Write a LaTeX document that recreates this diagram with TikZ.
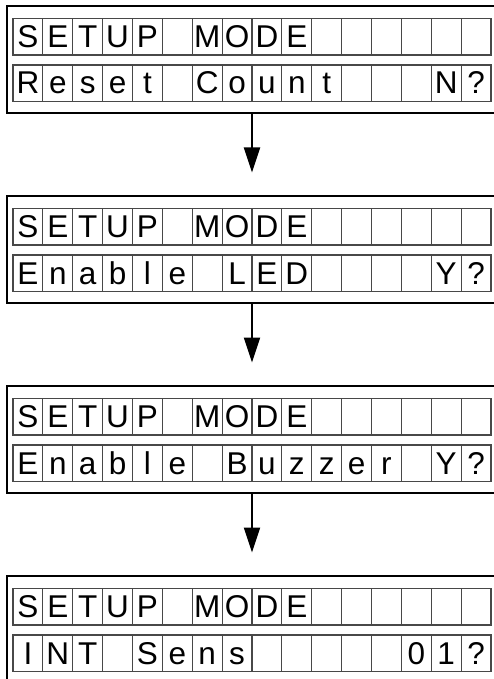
\documentclass[tikz,border=0pt]{standalone}
\usepackage{fontspec}
\setmainfont{Liberation Sans}
\usetikzlibrary{arrows.meta}
\definecolor{cellgray}{HTML}{484848}
\newcommand\lcdline[3]{%
  \foreach \ch [count=\i] in {#3} {%
    \draw[cellline] ({13+29.875*(\i-1)},#2) rectangle ++(29.875,36.5);
    \node[glyph] (#1-\i) at ({13+29.875*(\i-1)+14.94},{#2+29}) {\ch};
  }%
}
\begin{document}
\begin{tikzpicture}[x=1pt,y=-1pt,
  lcdbox/.style={draw=black,line width=2pt,minimum width=491pt,minimum height=107pt,inner sep=0pt,outer sep=0pt,anchor=north west},
  cellline/.style={draw=cellgray,line width=1.1pt},
  glyph/.style={anchor=base,inner sep=0pt,font=\fontsize{31.5}{31.5}\selectfont},
  flow/.style={line width=2pt,-{Triangle[length=25pt,width=16pt]}}]
\useasboundingbox (0,0) rectangle (493,679);
% displays
\node[lcdbox] (d1) at (7,6) {};
\node[lcdbox] (d2) at (7,196) {};
\node[lcdbox] (d3) at (7,386) {};
\node[lcdbox] (d4) at (7,576) {};
% display 1
\lcdline{d1a}{18.5}{S,E,T,U,P,{},M,O,D,E,{},{},{},{},{},{}}
\lcdline{d1b}{65}{R,e,s,e,t,{},C,o,u,n,t,{},{},{},N,?}
% display 2
\lcdline{d2a}{208.5}{S,E,T,U,P,{},M,O,D,E,{},{},{},{},{},{}}
\lcdline{d2b}{255}{E,n,a,b,l,e,{},L,E,D,{},{},{},{},Y,?}
% display 3
\lcdline{d3a}{398.5}{S,E,T,U,P,{},M,O,D,E,{},{},{},{},{},{}}
\lcdline{d3b}{445}{E,n,a,b,l,e,{},B,u,z,z,e,r,{},Y,?}
% display 4
\lcdline{d4a}{588.5}{S,E,T,U,P,{},M,O,D,E,{},{},{},{},{},{}}
\lcdline{d4b}{635}{I,N,T,{},S,e,n,s,{},{},{},{},{},0,1,?}
% arrows
\coordinate (e1) at (252,172.5);
\coordinate (e2) at (252,362.5);
\coordinate (e3) at (252,552.5);
\draw[flow] (d1.south -| e1) -- (e1);
\draw[flow] (d2.south -| e2) -- (e2);
\draw[flow] (d3.south -| e3) -- (e3);
\end{tikzpicture}
\end{document}
